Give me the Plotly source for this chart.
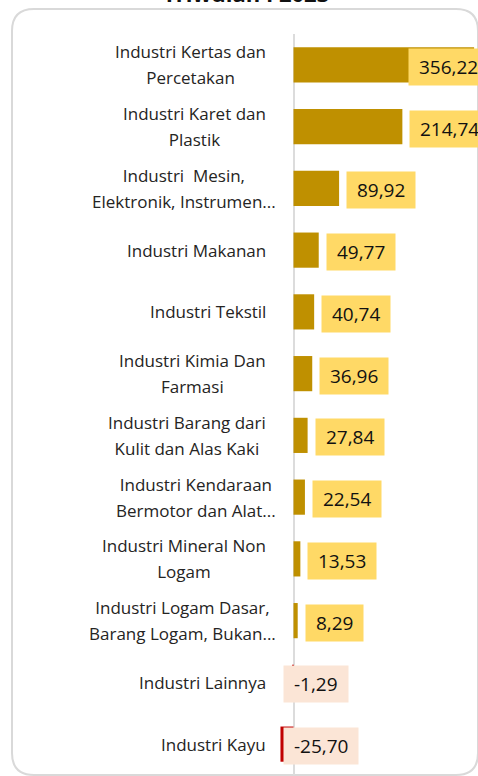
import plotly.graph_objects as go

# ---- data ----
categories = [
    "Industri Kertas dan<br>Percetakan",
    "Industri Karet dan<br>Plastik",
    "Industri  Mesin,<br>Elektronik, Instrumen...",
    "Industri Makanan",
    "Industri Tekstil",
    "Industri Kimia Dan<br>Farmasi",
    "Industri Barang dari<br>Kulit dan Alas Kaki",
    "Industri Kendaraan<br>Bermotor dan Alat...",
    "Industri Mineral Non<br>Logam",
    "Industri Logam Dasar,<br>Barang Logam, Bukan...",
    "Industri Lainnya",
    "Industri Kayu",
]
values = [356.22, 214.74, 89.92, 49.77, 40.74, 36.96, 27.84, 22.54, 13.53, 8.29, -1.29, -25.70]
title_text = "Triwulan I 2023"

# ---- layout geometry ----
W, H = 478, 776
ML, MR, MT, MB = 270, 0, 34, 1
PW, PH = W - ML - MR, H - MT - MB
ZERO_PX = 23.5
SCALE = 0.507
x_range = [-ZERO_PX / SCALE, (PW - ZERO_PX) / SCALE]

def px(X):
    return (X - ML) / PW

def py(Y):
    return (H - MB - Y) / PH

POS_BAR = "#BF9000"
NEG_BAR = "#C00000"
POS_BOX = "#FFD966"
NEG_BOX = "#FBE5D6"
FONT = "Open Sans, Noto Sans, sans-serif"

bar_colors = [POS_BAR if v >= 0 else NEG_BAR for v in values]

fig = go.Figure(
    go.Bar(
        x=values,
        y=list(range(len(categories))),
        orientation="h",
        marker=dict(color=bar_colors, line=dict(width=0)),
        hoverinfo="skip",
    )
)

annotations = []
for i, (cat, v) in enumerate(zip(categories, values)):
    # category label
    lines = cat.split("<br>")
    txt = "<br>".join('<span style="font-size:17px">%s</span>' % l for l in lines)
    shift = 10 if cat.endswith("...") else 0
    annotations.append(dict(
        x=px(268), xref="paper", y=i, yref="y",
        text=txt, showarrow=False, xanchor="right", yanchor="middle",
        align="center", xshift=shift,
        font=dict(family=FONT, size=20, color="#252423"),
    ))
    # value label
    label = "\u00a0" + f"{v:.2f}".replace(".", ",") + "\u00a0"
    if v < 0:
        ann = dict(x=0, xanchor="left", xshift=-11, bgcolor=NEG_BOX)
    elif v > 300:
        # label does not fit outside: placed over the bar end (inside)
        ann = dict(x=v, xanchor="left", xshift=-66, bgcolor=POS_BOX)
    else:
        ann = dict(x=v, xanchor="left", xshift=7, bgcolor=POS_BOX)
    ann.update(dict(
        y=i, xref="x", yref="y", text=label, showarrow=False,
        yanchor="middle", yshift=-2, borderpad=5,
        font=dict(family=FONT, size=19, color="#111111"),
    ))
    annotations.append(ann)

# title (cut off at top)
annotations.append(dict(
    x=px(246), y=py(9), xref="paper", yref="paper",
    text="<b>%s</b>" % title_text, showarrow=False,
    xanchor="center", yanchor="bottom", yshift=-1,
    font=dict(family=FONT, size=22, color="#111111"),
))

# rounded frame
L, T, R, B, r = 12, 9, 478, 775, 22
path = (
    f"M {px(L)} {py(T + r)} "
    f"Q {px(L)} {py(T)} {px(L + r)} {py(T)} "
    f"L {px(R - r)} {py(T)} "
    f"Q {px(R)} {py(T)} {px(R)} {py(T + r)} "
    f"L {px(R)} {py(B - r)} "
    f"Q {px(R)} {py(B)} {px(R - r)} {py(B)} "
    f"L {px(L + r)} {py(B)} "
    f"Q {px(L)} {py(B)} {px(L)} {py(B - r)} Z"
)
shapes = [dict(type="path", path=path, xref="paper", yref="paper",
               line=dict(color="#D9D9D9", width=2), fillcolor="rgba(0,0,0,0)",
               layer="below")]

fig.update_layout(
    width=W, height=H,
    margin=dict(l=ML, r=MR, t=MT, b=MB, pad=0),
    paper_bgcolor="white", plot_bgcolor="white",
    bargap=0.43,
    showlegend=False,
    annotations=annotations,
    shapes=shapes,
    xaxis=dict(range=x_range, showgrid=False, showticklabels=False, ticks="",
               zeroline=True, zerolinecolor="#DCDCDC", zerolinewidth=2,
               fixedrange=True),
    yaxis=dict(range=[len(categories) - 0.5, -0.5], showgrid=False,
               showticklabels=False, ticks="", zeroline=False, fixedrange=True),
)

fig.write_html(
    "out.html",
    config={"displayModeBar": False},
    post_script="document.body.style.margin='0';document.body.style.overflow='hidden';",
)
